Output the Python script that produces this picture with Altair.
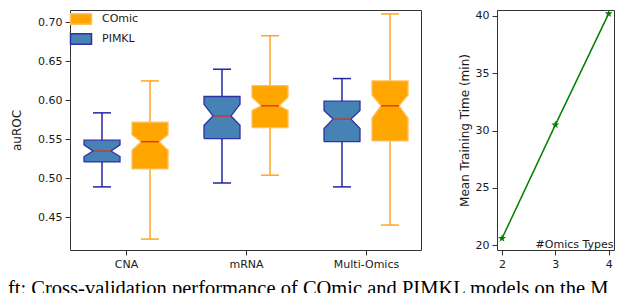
import altair as alt
import pandas as pd

# ---------------- data ----------------
categories = ["CNA", "mRNA", "Multi-Omics"]
models = ["PIMKL", "COmic"]
legend_order = ["COmic", "PIMKL"]

pimkl_whislo = [0.489, 0.494, 0.489]
pimkl_q1 = [0.521, 0.551, 0.547]
pimkl_notch_lo = [0.528, 0.568, 0.564]
pimkl_med = [0.535, 0.580, 0.576]
pimkl_notch_hi = [0.543, 0.595, 0.587]
pimkl_q3 = [0.549, 0.605, 0.599]
pimkl_whishi = [0.584, 0.640, 0.628]

comic_whislo = [0.422, 0.504, 0.440]
comic_q1 = [0.512, 0.565, 0.548]
comic_notch_lo = [0.536, 0.587, 0.577]
comic_med = [0.547, 0.593, 0.593]
comic_notch_hi = [0.556, 0.604, 0.607]
comic_q3 = [0.572, 0.619, 0.625]
comic_whishi = [0.625, 0.683, 0.711]

auroc_ticks = [0.45, 0.50, 0.55, 0.60, 0.65, 0.70]

omics_types = [2, 3, 4]
train_time = [20.6, 30.5, 40.2]
time_ticks = [20, 25, 30, 35, 40]

caption = "ft: Cross-validation performance of COmic and PIMKL models on the M"

# ---------------- styles ----------------
FONT = "DejaVu Sans"
FILL = {"COmic": "#ffa500", "PIMKL": "#4682b4"}
EDGE = {"COmic": "#ffbf5a", "PIMKL": "#3030aa"}
WHISK = {"COmic": "#ffa51f", "PIMKL": "#2424a0"}
MEDIAN = "#d62f27"
OFFSET = {"PIMKL": -0.2, "COmic": 0.2}
HALF = 0.15      # half box width (category units)
NOTCH = 0.075    # half width at the notch waist
CAP = 0.075      # half cap width
STAR = ("M0,-1L0.2245,-0.309L0.951,-0.309L0.363,0.118L0.588,0.809L0,0.382"
        "L-0.588,0.809L-0.363,0.118L-0.951,-0.309L-0.2245,-0.309Z")
RECT = "M-1.5,-0.75H1.5V0.75H-1.5Z"

stats = {
    "PIMKL": dict(whislo=pimkl_whislo, q1=pimkl_q1, nlo=pimkl_notch_lo, med=pimkl_med,
                  nhi=pimkl_notch_hi, q3=pimkl_q3, whishi=pimkl_whishi),
    "COmic": dict(whislo=comic_whislo, q1=comic_q1, nlo=comic_notch_lo, med=comic_med,
                  nhi=comic_notch_hi, q3=comic_q3, whishi=comic_whishi),
}

box_rows, outline_rows = [], []
for ci, cat in enumerate(categories):
    for m in models:
        s = {k: v[ci] for k, v in stats[m].items()}
        c = ci + OFFSET[m]
        box_rows.append(dict(category=cat, model=m, center=c, nl=c - NOTCH, nr=c + NOTCH,
                             capl=c - CAP, capr=c + CAP, **s))
        # closed outline of the notched box, walked around its edge
        pts = [
            (c - HALF, s["q1"]), (c + HALF, s["q1"]), (c + HALF, s["nlo"]),
            (c + NOTCH, s["med"]), (c + HALF, s["nhi"]), (c + HALF, s["q3"]),
            (c - HALF, s["q3"]), (c - HALF, s["nhi"]), (c - NOTCH, s["med"]),
            (c - HALF, s["nlo"]), (c - HALF, s["q1"]),
        ]
        for k, (xv, yv) in enumerate(pts):
            outline_rows.append(dict(box=f"{cat}-{m}", model=m, k=k, x=xv, y=yv))

box_df = pd.DataFrame(box_rows)
outline_df = pd.DataFrame(outline_rows)
time_df = pd.DataFrame({"omics": omics_types, "time": train_time})

xscale = alt.Scale(domain=[-0.4667, 2.4583], nice=False, zero=False)
yscale = alt.Scale(domain=[0.408, 0.716], nice=False, zero=False)

label_expr = "[" + ",".join("'" + c + "'" for c in categories) + "][datum.value]"
x_axis = alt.Axis(values=list(range(len(categories))), labelExpr=label_expr, title=None)
y_axis = alt.Axis(values=auroc_ticks, format=".2f", title="auROC", titlePadding=14.5)

legend = alt.Legend(title=None, orient="none", legendX=3, legendY=1, symbolType=RECT, symbolSize=196,
                    symbolStrokeWidth=1.5, symbolOpacity=1,
                    labelFont=FONT, labelFontSize=11, labelColor="#1a1a1a",
                    labelOffset=13, rowPadding=2, padding=0)

fill_scale = alt.Scale(domain=legend_order, range=[FILL[m] for m in legend_order])
edge_scale = alt.Scale(domain=legend_order, range=[EDGE[m] for m in legend_order])

layers = []
for m in models:
    base = alt.Chart(box_df).transform_filter(alt.datum.model == m)
    layers.append(base.mark_rule(color=WHISK[m], strokeWidth=1.5).encode(
        x=alt.X("center:Q", scale=xscale, axis=x_axis, title=None),
        y=alt.Y("whislo:Q", scale=yscale, axis=y_axis), y2="q1:Q"))
    layers.append(base.mark_rule(color=WHISK[m], strokeWidth=1.5).encode(
        x="center:Q", y="q3:Q", y2="whishi:Q"))
    layers.append(base.mark_rule(color=WHISK[m], strokeWidth=1.5).encode(
        x="capl:Q", x2="capr:Q", y="whislo:Q"))
    layers.append(base.mark_rule(color=WHISK[m], strokeWidth=1.5).encode(
        x="capl:Q", x2="capr:Q", y="whishi:Q"))

boxes = alt.Chart(outline_df).mark_line(strokeWidth=1.3, fillOpacity=1, strokeJoin="miter").encode(
    x="x:Q",
    y="y:Q",
    fill=alt.Fill("model:N", scale=fill_scale, legend=legend),
    stroke=alt.Stroke("model:N", scale=edge_scale, legend=legend),
    detail="box:N",
    order="k:Q",
)
medians = alt.Chart(box_df).mark_rule(color=MEDIAN, strokeWidth=1.3).encode(
    x="nl:Q", x2="nr:Q", y="med:Q")

left = alt.layer(*layers, boxes, medians).properties(width=351, height=240)

right = alt.Chart(time_df).mark_line(
    color="#008000", strokeWidth=1.5,
    point=alt.OverlayMarkDef(shape=STAR, size=72, filled=True, color="#008000"),
).encode(
    x=alt.X("omics:Q", scale=alt.Scale(domain=[1.906, 4.1], nice=False, zero=False),
            axis=alt.Axis(values=omics_types, format="d", title="#Omics Types", titleAnchor="end",
                          titleX=116, titleY=-3, titleAlign="right", titleBaseline="alphabetic",
                          titleFontSize=11)),
    y=alt.Y("time:Q", scale=alt.Scale(domain=[19.59, 40.52], nice=False, zero=False),
            axis=alt.Axis(values=time_ticks, format="d", title="Mean Training Time (min)",
                          titlePadding=3.5)),
).properties(width=117, height=240)

chart = alt.hconcat(
    left, right, spacing=36,
    title=alt.TitleParams(caption, orient="bottom", anchor="start", frame="bounds",
                          font="Liberation Serif", fontSize=20.5, fontWeight="normal",
                          color="black", dx=-1.5, offset=9.5),
).resolve_scale(fill="independent", stroke="independent").resolve_legend(
    fill="independent", stroke="independent"
).properties(
    padding={"left": 0, "top": 0, "right": 0, "bottom": 0}
).configure_view(
    stroke="#333333", strokeWidth=1
).configure_axis(
    domain=False, grid=False, tickColor="#333333", tickSize=5, tickWidth=1,
    labelFont=FONT, labelFontSize=11, labelColor="#1a1a1a", labelPadding=3,
    titleFont=FONT, titleFontSize=12, titleFontWeight="normal", titleColor="#1a1a1a",
)

chart.save("out.html", embed_options={"renderer": "svg", "actions": False})
